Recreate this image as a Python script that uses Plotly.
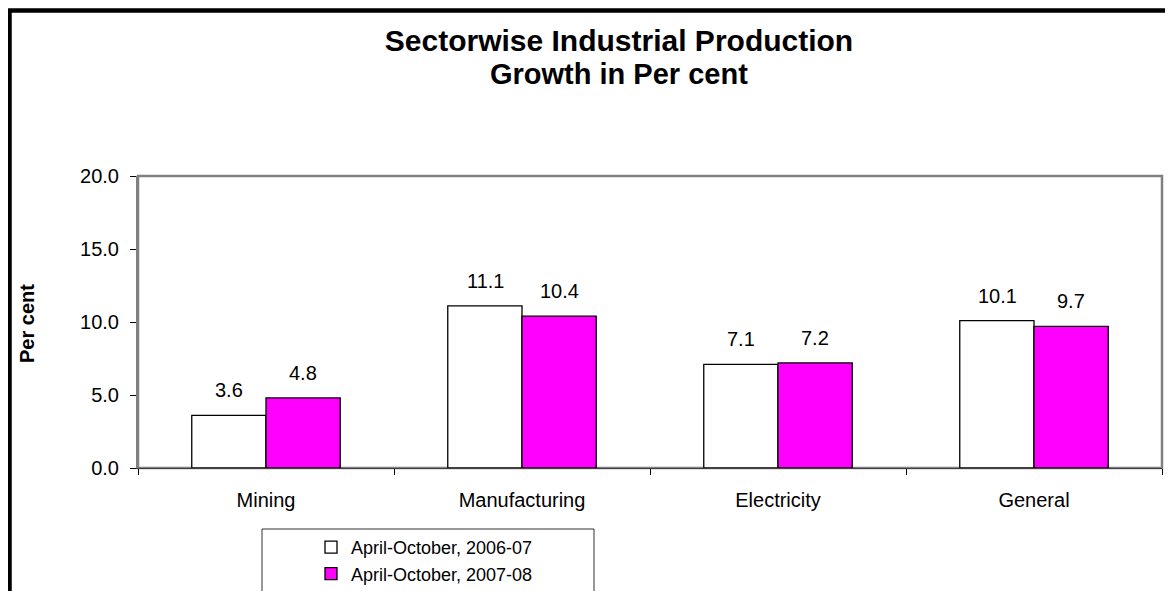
import plotly.graph_objects as go

categories = ["Mining", "Manufacturing", "Electricity", "General"]
series_names = ["April-October, 2006-07", "April-October, 2007-08"]
values_2006_07 = [3.6, 11.1, 7.1, 10.1]
values_2007_08 = [4.8, 10.4, 7.2, 9.7]
y_ticks = [0, 5, 10, 15, 20]

# page body adds an 8px margin; figure is sized to fill the rest of the window
OFF = 8
W, H = 1173 - OFF, 591 - OFF
# plot area in screen pixels
L, R, T, B = 138, 1162, 176, 468


def px_x(p):
    return (p - L) / (R - L)


def px_y(p):
    return (B - p) / (B - T)


FONT = "Liberation Sans, Arial, sans-serif"

fig = go.Figure()
fig.add_trace(go.Bar(
    x=categories, y=values_2006_07, name=series_names[0],
    marker=dict(color="#FFFFFF", line=dict(color="#000000", width=1.3)),
))
fig.add_trace(go.Bar(
    x=categories, y=values_2007_08, name=series_names[1],
    marker=dict(color="#FF00FF", line=dict(color="#000000", width=1.3)),
))

annotations = []
for vals, xs in ((values_2006_07, -37), (values_2007_08, 37)):
    for c, v in zip(categories, vals):
        annotations.append(dict(
            x=c, y=v, xref="x", yref="y", text=f"{v:.1f}", showarrow=False,
            xshift=xs, yshift=25, yanchor="middle",
            font=dict(family=FONT, size=20, color="#000000"),
        ))

annotations.append(dict(
    x=px_x(619), y=px_y(74), xref="paper", yref="paper",
    text="<b>Growth in Per cent</b>", showarrow=False,
    xanchor="center", yanchor="middle",
    font=dict(family=FONT, size=29, color="#000000"),
))
annotations.append(dict(
    x=px_x(27), y=px_y(324), xref="paper", yref="paper",
    text="<b>Per cent</b>", showarrow=False, textangle=-90,
    xanchor="center", yanchor="middle",
    font=dict(family=FONT, size=20, color="#000000"),
))

shapes = [
    # plot area border
    dict(type="rect", xref="paper", yref="paper", x0=0, y0=0, x1=1, y1=1,
         line=dict(color="#808080", width=2.5), layer="below"),
    # legend box
    dict(type="rect", xref="paper", yref="paper",
         x0=px_x(262), x1=px_x(594), y0=px_y(529), y1=px_y(640),
         line=dict(color="#333333", width=1)),
    # outer chart border
    dict(type="rect", xref="paper", yref="paper",
         x0=px_x(9.5), x1=px_x(1220), y0=px_y(10.5), y1=px_y(660),
         line=dict(color="#000000", width=4.5)),
]

fig.update_layout(
    width=W, height=H,
    margin=dict(l=L - OFF, r=W - (R - OFF), t=T - OFF, b=H - (B - OFF),
                autoexpand=False),
    paper_bgcolor="#FFFFFF", plot_bgcolor="#FFFFFF",
    barmode="group", bargap=0.42, bargroupgap=0,
    font=dict(family=FONT, size=20, color="#000000"),
    title=dict(
        text="<b>Sectorwise Industrial Production</b>",
        x=(619 - OFF) / W, xanchor="center",
        y=1 - (40 - OFF) / H, yanchor="middle",
        font=dict(family=FONT, size=30, color="#000000"),
    ),
    xaxis=dict(
        type="category", showgrid=False, showline=True,
        linecolor="#404040", linewidth=1,
        ticks="outside", tickson="boundaries", ticklen=6, tickcolor="#000000",
        ticklabelstandoff=14,
        tickfont=dict(family=FONT, size=20, color="#000000"),
    ),
    yaxis=dict(
        range=[0, 20], tickvals=y_ticks, tickformat=".1f",
        showgrid=False, showline=True, linecolor="#808080", linewidth=2,
        ticks="outside", ticklen=6, tickcolor="#000000",
        ticklabelstandoff=7, zeroline=False,
        tickfont=dict(family=FONT, size=20, color="#000000"),
    ),
    showlegend=True,
    legend=dict(
        orientation="v", x=px_x(311), xanchor="left",
        y=px_y(529), yanchor="top",
        bgcolor="rgba(0,0,0,0)", borderwidth=0,
        font=dict(family=FONT, size=18, color="#000000"),
        traceorder="normal",
    ),
    annotations=annotations,
    shapes=shapes,
)

fig.write_html("out.html")
